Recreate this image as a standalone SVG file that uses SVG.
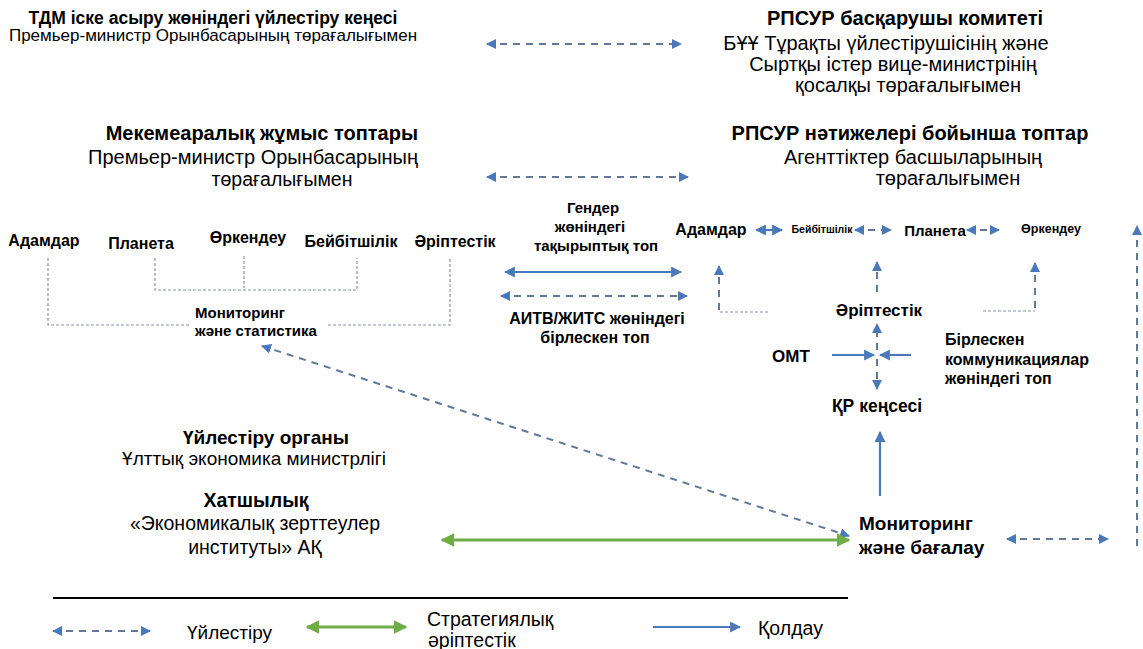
<svg xmlns="http://www.w3.org/2000/svg" width="1143" height="649" viewBox="0 0 1143 649">
<defs>
<style>
text{font-family:"Liberation Sans",Arial,sans-serif;fill:#000}
.b{font-weight:bold}
.dash{stroke:#62789a;stroke-width:2;stroke-dasharray:7 6;fill:none}
.dot{stroke:#8a93a3;stroke-width:1.2;stroke-dasharray:3 2;fill:none}
.solid{stroke:#4a78b8;stroke-width:2.2;fill:none}
.green{stroke:#70ad47;stroke-width:3;fill:none}
</style>
<marker id="ab" viewBox="0 0 10 10" refX="9" refY="5" markerWidth="5" markerHeight="5" orient="auto-start-reverse" markerUnits="strokeWidth">
<path d="M0,0 L10,5 L0,10 z" fill="#4a78b8"/>
</marker>
<marker id="ag" viewBox="0 0 10 10" refX="9" refY="5" markerWidth="4.5" markerHeight="4.5" orient="auto-start-reverse" markerUnits="strokeWidth">
<path d="M0,0 L10,5 L0,10 z" fill="#70ad47"/>
</marker>
</defs>
<rect width="1143" height="649" fill="#fff"/>

<g id="tdm-council">
<text class="b" style="font-size:17.5px" x="213" y="24" text-anchor="middle">ТДМ іске асыру жөніндегі үйлестіру кеңесі</text>
<text style="font-size:17px" x="213" y="41" text-anchor="middle">Премьер-министр Орынбасарының төрағалығымен</text>
</g>
<g id="rpsur-committee">
<text class="b" style="font-size:20px" x="905" y="25" text-anchor="middle">РПСУР басқарушы комитеті</text>
<text style="font-size:20px" x="886" y="50" text-anchor="middle">БҰҰ Тұрақты үйлестірушісінің және</text>
<text style="font-size:20px" x="893" y="71" text-anchor="middle">Сыртқы істер вице-министрінің</text>
<text style="font-size:20px" x="908" y="92" text-anchor="middle">қосалқы төрағалығымен</text>
</g>
<g id="interagency-groups">
<text class="b" style="font-size:20px" x="418" y="140" text-anchor="end">Мекемеаралық жұмыс топтары</text>
<text style="font-size:20px" x="418" y="164" text-anchor="end">Премьер-министр Орынбасарының</text>
<text style="font-size:19.5px" x="282" y="186" text-anchor="middle">төрағалығымен</text>
</g>
<g id="rpsur-groups">
<text class="b" style="font-size:20px" x="910" y="140" text-anchor="middle">РПСУР нәтижелері бойынша топтар</text>
<text style="font-size:20px" x="913" y="164" text-anchor="middle">Агенттіктер басшыларының</text>
<text style="font-size:20px" x="948" y="185" text-anchor="middle">төрағалығымен</text>
</g>

<g id="left-pillars">
<text class="b" style="font-size:16px" x="44" y="246" text-anchor="middle">Адамдар</text>
<text class="b" style="font-size:16px" x="141" y="249" text-anchor="middle">Планета</text>
<text class="b" style="font-size:16px" x="248" y="243" text-anchor="middle">Өркендеу</text>
<text class="b" style="font-size:16px" x="351" y="247" text-anchor="middle">Бейбітшілік</text>
<text class="b" style="font-size:16px" x="455" y="247" text-anchor="middle">Әріптестік</text>
</g>
<g id="monitoring-statistics">
<text class="b" style="font-size:15px" x="195" y="318">Мониторинг</text>
<text class="b" style="font-size:15px" x="195" y="336">және статистика</text>
</g>
<g id="gender-group">
<text class="b" style="font-size:15px" x="593" y="213" text-anchor="middle">Гендер</text>
<text class="b" style="font-size:15px" x="590" y="232" text-anchor="middle">жөніндегі</text>
<text class="b" style="font-size:15px" x="596" y="251" text-anchor="middle">тақырыптық топ</text>
</g>
<g id="hiv-group">
<text class="b" style="font-size:16px" x="597" y="324" text-anchor="middle">АИТВ/ЖИТС жөніндегі</text>
<text class="b" style="font-size:16px" x="595" y="343" text-anchor="middle">бірлескен топ</text>
</g>
<g id="right-pillars">
<text class="b" style="font-size:16px" x="711" y="235" text-anchor="middle">Адамдар</text>
<text class="b" style="font-size:10.5px" x="822" y="233" text-anchor="middle">Бейбітшілік</text>
<text class="b" style="font-size:15px" x="935" y="236" text-anchor="middle">Планета</text>
<text class="b" style="font-size:12.5px" x="1051" y="233" text-anchor="middle">Өркендеу</text>
</g>
<g id="partnership">
<text class="b" style="font-size:17px" x="879" y="316" text-anchor="middle">Әріптестік</text>
</g>
<g id="omt">
<text class="b" style="font-size:17px" x="791" y="362" text-anchor="middle">ОМТ</text>
</g>
<g id="joint-comms">
<text class="b" style="font-size:16px" x="945" y="345">Бірлескен</text>
<text class="b" style="font-size:16px" x="945" y="365">коммуникациялар</text>
<text class="b" style="font-size:16px" x="945" y="384">жөніндегі топ</text>
</g>
<g id="rc-office">
<text class="b" style="font-size:17.5px" x="877" y="412" text-anchor="middle">ҚР кеңсесі</text>
</g>
<g id="coordination-body">
<text class="b" style="font-size:19px" x="266" y="444" text-anchor="middle">Үйлестіру органы</text>
<text style="font-size:19px" x="254" y="465" text-anchor="middle">Ұлттық экономика министрлігі</text>
</g>
<g id="secretariat">
<text class="b" style="font-size:19.5px" x="256" y="507" text-anchor="middle">Хатшылық</text>
<text style="font-size:19.5px" x="255" y="530" text-anchor="middle">«Экономикалық зерттеулер</text>
<text style="font-size:19.5px" x="255" y="554" text-anchor="middle">институты» АҚ</text>
</g>
<g id="monitoring-evaluation">
<text class="b" style="font-size:19px" x="859" y="530">Мониторинг</text>
<text class="b" style="font-size:19px" x="859" y="554">және бағалау</text>
</g>

<g id="connectors">
<line class="dash" x1="487" y1="44" x2="681" y2="44" marker-start="url(#ab)" marker-end="url(#ab)"/>
<line class="dash" x1="487" y1="177" x2="688" y2="177" marker-start="url(#ab)" marker-end="url(#ab)"/>
<path class="dot" d="M155,258 V290 H357 V258"/>
<line class="dot" x1="244" y1="256" x2="244" y2="288"/>
<path class="dot" d="M48,258 V325 H189"/>
<path class="dot" d="M328,325 H450 V258"/>
<line class="solid" x1="505" y1="272" x2="681" y2="272" marker-start="url(#ab)" marker-end="url(#ab)"/>
<line class="dash" x1="501" y1="296" x2="687" y2="296" marker-start="url(#ab)" marker-end="url(#ab)"/>
<line class="solid" x1="756" y1="230" x2="782" y2="230" marker-start="url(#ab)" marker-end="url(#ab)"/>
<line class="dash" x1="855" y1="230" x2="891" y2="230" stroke-dasharray="6 10" marker-start="url(#ab)" marker-end="url(#ab)"/>
<line class="dash" x1="967" y1="230" x2="999" y2="230" stroke-dasharray="5 8" marker-start="url(#ab)" marker-end="url(#ab)"/>
<path class="dash" d="M719,310 V266" stroke-dasharray="8 6" marker-end="url(#ab)"/>
<line class="dot" x1="720" y1="312" x2="770" y2="312"/>
<path class="dash" d="M877,292 V262" stroke-dasharray="6 8" marker-end="url(#ab)"/>
<path class="dash" d="M1035,308 V263" stroke-dasharray="8 6" marker-end="url(#ab)"/>
<path class="dot" d="M983,311 H1035"/>
<path class="dash" d="M877,350 V324" stroke-dasharray="6 8" marker-end="url(#ab)"/>
<line class="solid" x1="832" y1="355" x2="874" y2="355" marker-end="url(#ab)"/>
<line class="solid" x1="911" y1="355" x2="880" y2="355" marker-end="url(#ab)"/>
<path class="dash" d="M877,359 V389" stroke-dasharray="6 8" marker-end="url(#ab)"/>
<line class="solid" x1="880" y1="496" x2="880" y2="432" marker-end="url(#ab)"/>
<line class="dash" x1="262" y1="346" x2="849" y2="536" marker-start="url(#ab)" marker-end="url(#ab)"/>
<line class="green" x1="442" y1="540" x2="849" y2="540" marker-start="url(#ag)" marker-end="url(#ag)"/>
<line class="dash" x1="1007" y1="539" x2="1108" y2="539" marker-start="url(#ab)" marker-end="url(#ab)"/>
<line class="dash" x1="1137" y1="546" x2="1137" y2="226" stroke-width="1.6" stroke-dasharray="5 5" marker-end="url(#ab)"/>
</g>

<g id="legend">
<line x1="53" y1="598" x2="848" y2="598" stroke="#000" stroke-width="2"/>
<line class="dash" x1="53" y1="631" x2="150" y2="631" marker-start="url(#ab)" marker-end="url(#ab)"/>
<text style="font-size:19px" x="187" y="639">Үйлестіру</text>
<line class="green" x1="307" y1="627" x2="406" y2="627" marker-start="url(#ag)" marker-end="url(#ag)"/>
<text style="font-size:19.5px" x="427" y="626">Стратегиялық</text>
<text style="font-size:19.5px" x="428" y="647">әріптестік</text>
<line class="solid" x1="653" y1="627" x2="740" y2="627" marker-end="url(#ab)"/>
<text style="font-size:19.5px" x="758" y="635">Қолдау</text>
</g>
</svg>
